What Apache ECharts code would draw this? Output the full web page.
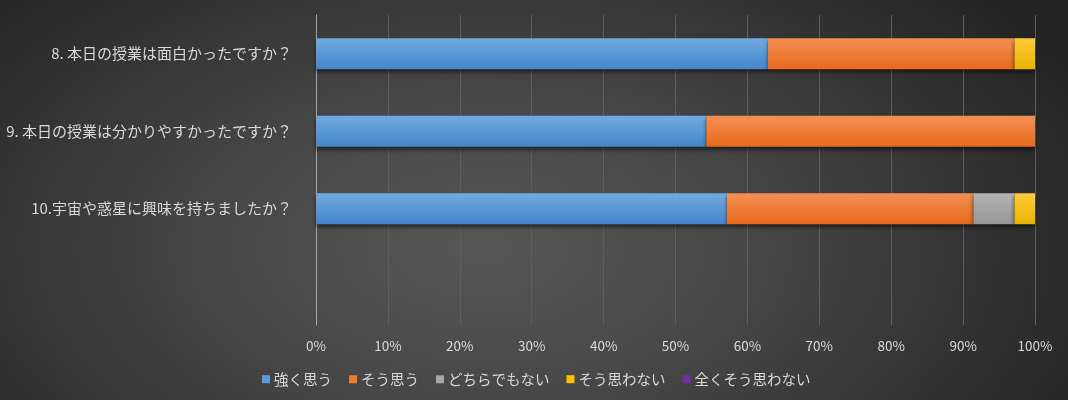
<!DOCTYPE html>
<html><head><meta charset="utf-8">
<script src="https://cdn.jsdelivr.net/npm/echarts@6/dist/echarts.min.js"></script>
<style>html,body{margin:0;padding:0;background:#2a2a2a}
#c{width:1068px;height:400px;background:radial-gradient(ellipse 62% 95% at 45% 62%, #575757 0%, #474747 40%, #333333 75%, #242424 100%)}</style>
</head><body><div id="c"></div>
<script>
const categories = ['8. 本日の授業は面白かったですか？', '9. 本日の授業は分かりやすかったですか？', '10.宇宙や惑星に興味を持ちましたか？', ''];
const seriesNames = ['強く思う', 'そう思う', 'どちらでもない', 'そう思わない', '全くそう思わない'];
const strongly = [22, 19, 20, 0];
const agree = [12, 16, 12, 0];
const neutral = [0, 0, 2, 0];
const disagree = [1, 0, 1, 0];
const stronglyDisagree = [0, 0, 0, 0];
const xTicks = [0, 10, 20, 30, 40, 50, 60, 70, 80, 90, 100];

const raw = [strongly, agree, neutral, disagree, stronglyDisagree];
const totals = categories.map((_, i) => raw.reduce((s, a) => s + a[i], 0));
const pct = raw.map(a => a.map((v, i) => totals[i] ? v / totals[i] * 100 : 0));

const colors = [
  ['#72aae0', '#4386cb'],
  ['#f39055', '#e8691b'],
  ['#b3b3b3', '#979797'],
  ['#ffcb3a', '#e8b400'],
  ['#8046b0', '#652a95']
];
const flat = ['#5b9bd5', '#ed7d31', '#a5a5a5', '#ffc000', '#7030a0'];
const font = '"Noto Sans CJK JP", "Noto Sans", sans-serif';

const chart = echarts.init(document.getElementById('c'));
chart.setOption({
  animation: false,
  backgroundColor: 'transparent',
  textStyle: {fontFamily: font},
  grid: {left: 316, right: 33, top: 15, bottom: 75},
  legend: {
    left: 257, top: 367, itemWidth: 8, itemHeight: 8, itemGap: 17, icon: 'rect',
    textStyle: {color: '#d9d9d9', fontSize: 14.5, fontFamily: font, padding: [0, 0, 0, -1]},
    data: seriesNames.map((n, i) => ({name: n, itemStyle: {color: flat[i]}}))
  },
  xAxis: {
    type: 'value', min: 0, max: 100, interval: 10,
    axisLabel: {formatter: v => xTicks.includes(v) ? v + '%' : '', color: '#d9d9d9', fontSize: 13.5, margin: 14},
    axisLine: {show: false}, axisTick: {show: false},
    splitLine: {lineStyle: {color: '#5e5e5e', width: 1}}
  },
  yAxis: {
    type: 'category', inverse: true, data: categories,
    axisLine: {lineStyle: {color: '#a6a6a6'}},
    axisTick: {length: 5, lineStyle: {color: '#a6a6a6'}},
    axisLabel: {color: '#d9d9d9', fontSize: 15, margin: 24}
  },
  series: seriesNames.map((n, i) => ({
    name: n, type: 'bar', stack: 'total', barWidth: 31,
    itemStyle: {
      color: {type: 'linear', x: 0, y: 0, x2: 0, y2: 1,
        colorStops: [{offset: 0, color: colors[i][0]}, {offset: 1, color: colors[i][1]}]},
      shadowColor: 'rgba(0,0,0,0.55)', shadowBlur: 4, shadowOffsetY: 3
    },
    data: pct[i]
  }))
});
</script></body></html>
